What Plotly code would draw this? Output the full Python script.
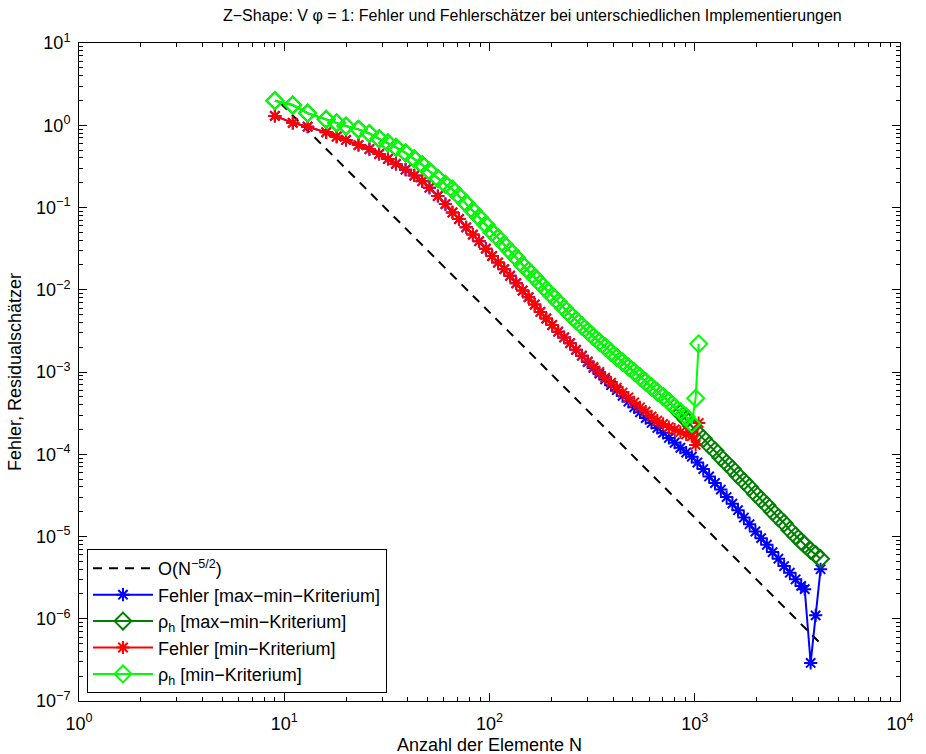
import plotly.graph_objects as go

# ---------------- data ----------------
ref_N = [9.6, 4100]
ref_val = [1.85, 5.0e-7]

# common meshes (both implementations identical until ~N=280)
N_common = [9, 11, 13, 16, 18, 20, 23, 26, 29, 32, 35, 39, 43, 47, 51, 56, 61, 66, 71, 77,
            83, 89, 96, 103, 110, 118, 126, 135, 145, 155, 166, 177, 189, 202, 216, 231,
            247, 264, 282]
err_common = [1.30, 1.07, 0.96, 0.82, 0.726, 0.662, 0.575, 0.513, 0.447, 0.389, 0.339,
              0.288, 0.245, 0.209, 0.174, 0.138, 0.110, 0.0871, 0.0724, 0.0575, 0.0468,
              0.0389, 0.0316, 0.0257, 0.0214, 0.0178, 0.0148, 0.0120, 0.00977, 0.00813,
              0.00661, 0.00537, 0.00447, 0.00372, 0.00309, 0.00263, 0.00224, 0.00186,
              0.00158]
rho_common = [1.99, 1.76, 1.40, 1.18, 1.07, 0.977, 0.891, 0.794, 0.684, 0.610, 0.537,
              0.462, 0.389, 0.331, 0.275, 0.226, 0.191, 0.166, 0.138, 0.112, 0.0912,
              0.0759, 0.0617, 0.0501, 0.0427, 0.0355, 0.0295, 0.0245, 0.0200, 0.0170,
              0.0141, 0.0119, 0.0100, 0.00841, 0.00708, 0.00596, 0.00501, 0.00427,
              0.00363]

# min-Kriterium continuation
N_min_tail = [301, 321, 343, 366, 391, 417, 445, 475, 507, 541, 577, 616, 657, 701, 748,
              798, 851, 908, 968, 1010, 1045]
err_min_tail = [1.35e-3, 1.15e-3, 1.00e-3, 8.51e-4, 7.41e-4, 6.46e-4, 5.62e-4, 4.90e-4,
                4.27e-4, 3.72e-4, 3.31e-4, 2.88e-4, 2.57e-4, 2.34e-4, 2.14e-4, 2.00e-4,
                1.86e-4, 1.74e-4, 1.66e-4, 1.30e-4, 2.40e-4]
rho_min_tail = [3.13e-3, 2.69e-3, 2.32e-3, 2.02e-3, 1.74e-3, 1.51e-3, 1.32e-3, 1.15e-3,
                1.00e-3, 8.71e-4, 7.59e-4, 6.61e-4, 5.75e-4, 5.01e-4, 4.37e-4, 3.80e-4,
                3.31e-4, 2.88e-4, 2.35e-4, 4.80e-4, 2.20e-3]

# max-min-Kriterium continuation
N_mm_tail = [301, 321, 343, 366, 391, 417, 445, 475, 507, 541, 577, 616, 657, 701, 748,
             798, 851, 908, 968, 1030, 1100, 1175, 1255, 1340, 1430, 1525, 1625, 1735,
             1850, 1975, 2105, 2245, 2395, 2555, 2725, 2905, 3100, 3300, 3433, 3670,
             3882, 4102]
err_mm_tail = [1.32e-3, 1.12e-3, 9.55e-4, 8.13e-4, 6.92e-4, 6.03e-4, 5.13e-4, 4.37e-4,
               3.72e-4, 3.24e-4, 2.75e-4, 2.40e-4, 2.09e-4, 1.82e-4, 1.58e-4, 1.38e-4,
               1.20e-4, 1.05e-4, 9.33e-5, 7.94e-5, 6.61e-5, 5.37e-5, 4.47e-5, 3.72e-5,
               3.02e-5, 2.51e-5, 2.09e-5, 1.70e-5, 1.41e-5, 1.15e-5, 9.55e-6, 7.94e-6,
               6.46e-6, 5.37e-6, 4.37e-6, 3.63e-6, 3.02e-6, 2.51e-6, 2.29e-6, 2.9e-7,
               1.1e-6, 4.0e-6]
rho_mm_tail = [3.13e-3, 2.69e-3, 2.32e-3, 2.02e-3, 1.74e-3, 1.51e-3, 1.32e-3, 1.15e-3,
               1.00e-3, 8.71e-4, 7.59e-4, 6.61e-4, 5.75e-4, 5.01e-4, 4.37e-4, 3.72e-4,
               3.16e-4, 2.63e-4, 2.19e-4, 1.82e-4, 1.55e-4, 1.29e-4, 1.10e-4, 9.12e-5,
               7.76e-5, 6.61e-5, 5.50e-5, 4.68e-5, 3.98e-5, 3.31e-5, 2.82e-5, 2.40e-5,
               2.00e-5, 1.70e-5, 1.45e-5, 1.20e-5, 1.02e-5, 8.71e-6, 7.94e-6, 6.76e-6,
               6.03e-6, 5.37e-6]

x_tickvals = [1, 10, 100, 1000, 10000]
x_ticktext = ["10<sup>0</sup>", "10<sup>1</sup>", "10<sup>2</sup>", "10<sup>3</sup>",
              "10<sup>4</sup>"]
y_tickvals = [1e-7, 1e-6, 1e-5, 1e-4, 1e-3, 1e-2, 1e-1, 1, 10]
y_ticktext = ["10<sup>−7</sup>", "10<sup>−6</sup>", "10<sup>−5</sup>", "10<sup>−4</sup>",
              "10<sup>−3</sup>", "10<sup>−2</sup>", "10<sup>−1</sup>", "10<sup>0</sup>",
              "10<sup>1</sup>"]

N_mm = N_common + N_mm_tail
err_mm = err_common + err_mm_tail
rho_mm = rho_common + rho_mm_tail
N_min = N_common + N_min_tail
err_min = err_common + err_min_tail
rho_min = rho_common + rho_min_tail

names = ["O(N<sup>−5/2</sup>)",
         "Fehler [max−min−Kriterium]",
         "ρ<sub>h</sub> [max−min−Kriterium]",
         "Fehler [min−Kriterium]",
         "ρ<sub>h</sub> [min−Kriterium]"]

# minor tick positions (2..9 within every decade) for the log axes
x_minor = [k * 10 ** d for d in range(0, 4) for k in range(2, 10)]
y_minor = [k * 10.0 ** d for d in range(-7, 1) for k in range(2, 10)]

FONT = "Liberation Sans, Arial, sans-serif"

fig = go.Figure()
fig.add_trace(go.Scatter(x=ref_N, y=ref_val, mode="lines", name=names[0],
                         line=dict(color="black", width=2, dash="9px,7px")))
fig.add_trace(go.Scatter(x=N_mm, y=err_mm, mode="lines+markers", name=names[1],
                         line=dict(color="#0000FF", width=2),
                         marker=dict(symbol="asterisk-open", size=11,
                                     line=dict(color="#0000FF", width=2))))
fig.add_trace(go.Scatter(x=N_mm, y=rho_mm, mode="lines+markers", name=names[2],
                         line=dict(color="#008000", width=2),
                         marker=dict(symbol="diamond-open", size=13, color="#008000",
                                     line=dict(color="#008000", width=2))))
fig.add_trace(go.Scatter(x=N_min, y=err_min, mode="lines+markers", name=names[3],
                         line=dict(color="#FF0000", width=2),
                         marker=dict(symbol="asterisk-open", size=11,
                                     line=dict(color="#FF0000", width=2))))
fig.add_trace(go.Scatter(x=N_min, y=rho_min, mode="lines+markers", name=names[4],
                         line=dict(color="#00FF00", width=2),
                         marker=dict(symbol="diamond-open", size=13, color="#00FF00",
                                     line=dict(color="#00FF00", width=2))))

axis_common = dict(type="log", showgrid=False, zeroline=False,
                   showline=True, linecolor="black", linewidth=1, mirror="ticks",
                   ticks="inside", ticklen=8, tickcolor="black", tickwidth=1,
                   tickmode="array",
                   tickfont=dict(family=FONT, size=18, color="black"))

fig.update_layout(
    width=926, height=754,
    margin=dict(l=79, r=20, t=43, b=53),
    paper_bgcolor="white", plot_bgcolor="white",
    font=dict(family=FONT, size=18, color="black"),
    xaxis=dict(range=[0, 4], tickvals=x_tickvals, ticktext=x_ticktext,
               ticklabelstandoff=6,
               minor=dict(tickmode="array", tickvals=x_minor, ticks="inside",
                          ticklen=4, tickcolor="black", tickwidth=1, showgrid=False),
               **axis_common),
    yaxis=dict(range=[-7, 1], tickvals=y_tickvals, ticktext=y_ticktext,
               ticklabelstandoff=4,
               minor=dict(tickmode="array", tickvals=y_minor, ticks="inside",
                          ticklen=4, tickcolor="black", tickwidth=1, showgrid=False),
               **axis_common),
    showlegend=True,
    legend=dict(x=0.0097, y=0.012, xanchor="left", yanchor="bottom",
                bgcolor="white", bordercolor="black", borderwidth=1,
                font=dict(family=FONT, size=18, color="black"),
                itemwidth=60, tracegroupgap=0),
    annotations=[
        dict(text="Z−Shape: V φ = 1: Fehler und Fehlerschätzer bei unterschiedlichen Implementierungen",
             xref="paper", yref="paper", x=0.5, y=1, yshift=28, xshift=43,
             showarrow=False, xanchor="center", yanchor="middle",
             font=dict(family=FONT, size=16)),
        dict(text="Anzahl der Elemente N", xref="paper", yref="paper", x=0.5, y=0,
             yshift=-44, showarrow=False, xanchor="center", yanchor="middle",
             font=dict(family=FONT, size=18)),
        dict(text="Fehler, Residualschätzer", xref="paper", yref="paper", x=0, y=0.5,
             xshift=-64, showarrow=False, xanchor="center", yanchor="middle",
             textangle=-90, font=dict(family=FONT, size=18)),
    ],
)

fig.write_html("out.html")
